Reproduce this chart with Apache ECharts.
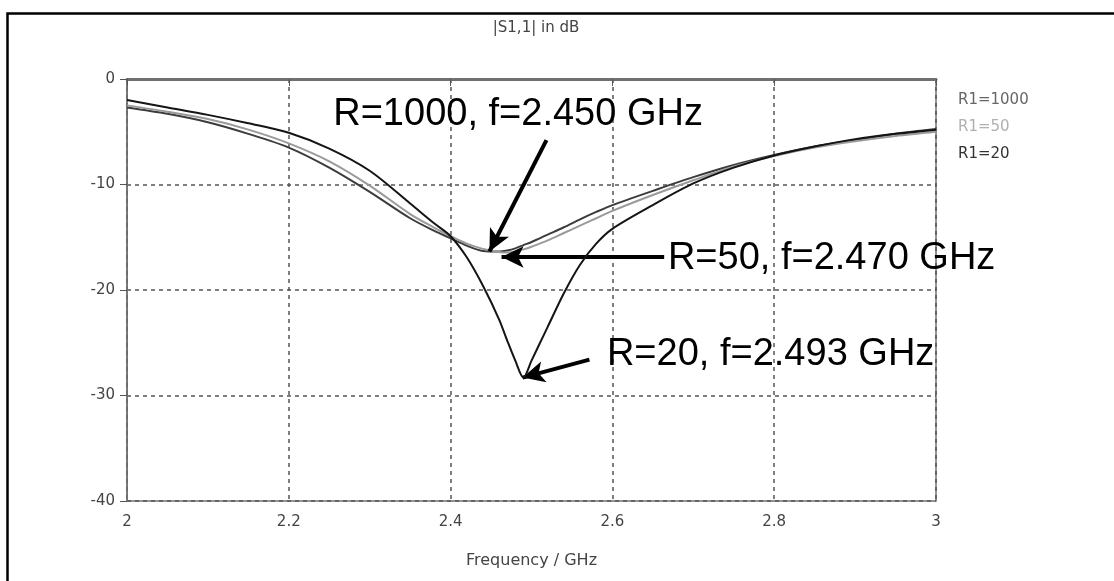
<!DOCTYPE html>
<html>
<head>
<meta charset="utf-8">
<script src="https://cdn.jsdelivr.net/npm/echarts@6/dist/echarts.min.js"></script>
<style>
  html, body { margin: 0; padding: 0; background: #fff; }
  #chart { width: 1114px; height: 581px; }
</style>
</head>
<body>
<div id="chart"></div>
<script>
// frequency points, GHz (denser around the resonance)
var freq = [2.0, 2.05, 2.1, 2.15, 2.2, 2.25, 2.3, 2.35, 2.38, 2.4, 2.42, 2.44, 2.46, 2.47, 2.48, 2.49,
  2.5, 2.51, 2.52, 2.54, 2.56, 2.58, 2.6, 2.65, 2.7, 2.75, 2.8, 2.85, 2.9, 2.95, 3.0];

// |S1,1| in dB
var r1000 = [-2.7, -3.3, -4.1, -5.2, -6.5, -8.4, -10.7, -13.2, -14.4, -15.1, -15.8, -16.3, -16.35, -16.25, -16.05, -15.75,
  -15.45, -15.1, -14.75, -14.05, -13.3, -12.6, -11.95, -10.6, -9.3, -8.15, -7.2, -6.4, -5.8, -5.2, -4.75];
var r50 = [-2.5, -3.1, -3.8, -4.8, -6.1, -7.8, -10.1, -12.8, -14.1, -14.9, -15.6, -16.1, -16.4, -16.45, -16.35, -16.15,
  -15.9, -15.6, -15.3, -14.6, -13.9, -13.2, -12.5, -11.0, -9.6, -8.3, -7.3, -6.5, -5.9, -5.4, -5.0];
var r20 = [-2.0, -2.7, -3.4, -4.2, -5.1, -6.6, -8.7, -11.8, -13.7, -14.9, -16.9, -19.6, -22.8, -24.8, -26.7, -28.3,
  -26.7, -25.1, -23.5, -20.3, -17.6, -15.6, -14.2, -11.95, -9.9, -8.4, -7.25, -6.4, -5.7, -5.2, -4.8];

var seriesNames = ['R1=1000', 'R1=50', 'R1=20'];
var seriesColors = ['#3c3c3c', '#9a9a9a', '#141414'];
var legendColors = ['#666666', '#b0b0b0', '#333333'];

var xTicks = [2, 2.2, 2.4, 2.6, 2.8, 3];
var yTicks = [0, -10, -20, -30, -40];

// annotation arrows: [from, to] in data units
var arrows = [
  [[2.5185, -5.8], [2.448, -16.35]],
  [[2.664, -16.87], [2.463, -16.87]],
  [[2.5716, -26.6], [2.489, -28.3]]
];
var notes = [
  { text: 'R=1000, f=2.450 GHz', at: [2.2543, -3.32] },
  { text: 'R=50, f=2.470 GHz', at: [2.668, -16.97] },
  { text: 'R=20, f=2.493 GHz', at: [2.5926, -26.07] }
];

function pairs(vals) {
  return freq.map(function (f, i) { return [f, vals[i]]; });
}

var axisFont = 'DejaVu Sans';
var chart = echarts.init(document.getElementById('chart'));

var lineSeries = [r1000, r50, r20].map(function (vals, i) {
  return {
    name: seriesNames[i],
    type: 'line',
    data: pairs(vals),
    smooth: 0.3,
    symbol: 'none',
    z: 3 + i,
    lineStyle: { color: seriesColors[i], width: 2 },
    itemStyle: { color: seriesColors[i] }
  };
});

// arrows + big labels sit on top of the curves
lineSeries.push({
  name: 'notes',
  type: 'line',
  data: [],
  z: 10,
  markLine: {
    silent: true,
    symbol: ['none', 'arrow'],
    symbolSize: [16, 22],
    label: { show: false },
    lineStyle: { color: '#000', width: 4, type: 'solid' },
    data: arrows.map(function (a) {
      return [{ coord: a[0] }, { coord: a[1] }];
    })
  },
  markPoint: {
    silent: true,
    symbol: 'circle',
    symbolSize: 1,
    itemStyle: { color: 'rgba(0,0,0,0)' },
    label: {
      show: true,
      position: 'right',
      distance: 0,
      color: '#000',
      fontFamily: 'Liberation Sans',
      fontSize: 38,
      formatter: function (p) { return p.name; }
    },
    data: notes.map(function (n) {
      return { name: n.text, coord: n.at };
    })
  }
});

var option = {
  animation: false,
  backgroundColor: '#fff',
  graphic: [{
    type: 'rect',
    left: 5, top: 11,
    shape: { width: 1200, height: 700 },
    style: { fill: 'none', stroke: '#000', lineWidth: 2.5 },
    silent: true
  }],
  title: {
    text: '|S1,1| in dB',
    left: 531, top: 16,
    textAlign: 'center',
    textStyle: { fontFamily: axisFont, fontSize: 15, fontWeight: 'normal', color: '#444' }
  },
  legend: {
    orient: 'vertical',
    left: 948, top: 88,
    itemGap: 12,
    itemWidth: 0, itemHeight: 0,
    icon: 'rect',
    selectedMode: false,
    textStyle: { fontFamily: axisFont, fontSize: 15 },
    data: seriesNames.map(function (n, i) {
      return { name: n, textStyle: { color: legendColors[i] } };
    })
  },
  grid: {
    left: 127, right: 178, top: 79, bottom: 80,
    show: true,
    borderColor: '#707070',
    borderWidth: 1.5
  },
  xAxis: {
    type: 'value',
    min: 2, max: 3, interval: 0.2,
    name: 'Frequency / GHz',
    nameLocation: 'middle',
    nameGap: 52,
    nameTextStyle: { fontFamily: axisFont, fontSize: 16, color: '#444' },
    axisLine: { show: true, lineStyle: { color: '#707070', width: 3 } },
    axisTick: { show: true, length: 7, lineStyle: { color: '#555' } },
    axisLabel: {
      fontFamily: axisFont, fontSize: 15, color: '#444', margin: 14,
      formatter: function (v) {
        var t = xTicks.find(function (x) { return Math.abs(x - v) < 1e-6; });
        return t === undefined ? '' : String(t);
      }
    },
    splitLine: { show: true, lineStyle: { color: '#555', type: [4, 4], width: 1.5 } }
  },
  yAxis: {
    type: 'value',
    min: -40, max: 0, interval: 10,
    axisLine: { show: true, lineStyle: { color: '#707070', width: 1.5 } },
    axisTick: { show: true, length: 7, lineStyle: { color: '#555' } },
    axisLabel: {
      fontFamily: axisFont, fontSize: 15, color: '#444', margin: 12,
      formatter: function (v) {
        var t = yTicks.find(function (y) { return Math.abs(y - v) < 1e-6; });
        return t === undefined ? '' : String(t);
      }
    },
    splitLine: { show: true, lineStyle: { color: '#555', type: [4, 4], width: 1.5 } }
  },
  series: lineSeries
};

chart.setOption(option);
</script>
</body>
</html>
